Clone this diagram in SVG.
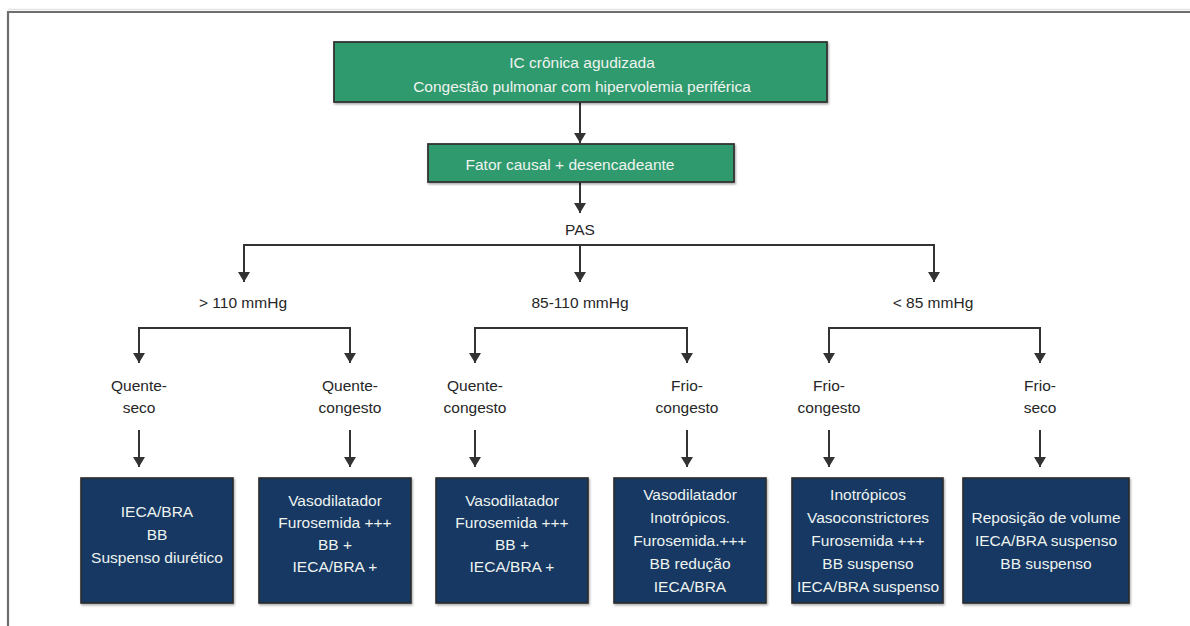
<svg xmlns="http://www.w3.org/2000/svg" width="1190" height="626" viewBox="0 0 1190 626">
<style>
.frame{stroke:#6e6e6e;stroke-width:2.2;fill:none}
.green{fill:#2f9a6d;stroke:#333;stroke-width:1.8}
.navy{fill:#163762;stroke:#2b2b2b;stroke-width:1.6}
.lt{font-family:"Liberation Sans",Arial,sans-serif;font-size:15.5px;fill:#eef3f0;text-anchor:middle}
.dk{font-family:"Liberation Sans",Arial,sans-serif;font-size:15.5px;fill:#262626;text-anchor:middle}
.con{stroke:#333;stroke-width:2;fill:none}
</style>
<defs>
<marker id="ah" markerUnits="userSpaceOnUse" markerWidth="12" markerHeight="12" refX="10" refY="6" orient="auto" viewBox="0 0 12 12">
<path d="M0,0 L10,6 L0,12 z" fill="#333"/>
</marker>
<filter id="sh" x="-5%" y="-5%" width="115%" height="115%">
<feDropShadow dx="1" dy="1.5" stdDeviation="1" flood-color="#000" flood-opacity="0.35"/>
</filter>
</defs>
<rect width="1190" height="626" fill="#fff"/>
<line x1="8" y1="9.5" x2="1190" y2="9.5" stroke="#e2e2e2" stroke-width="1.5"/>
<path class="frame" d="M8,626 V12 H1190"/>

<g id="connectors">
<path class="con" d="M580,102 V143" marker-end="url(#ah)"/>
<path class="con" d="M580,182 V213" marker-end="url(#ah)"/>
<path class="con" d="M244,282 V245 H934 V282" marker-end="url(#ah)"/>
<path class="con" d="M244,245 V282" marker-end="url(#ah)"/>
<path class="con" d="M580,245 V282" marker-end="url(#ah)"/>
<path class="con" d="M139,363 V328 H350 V363" marker-end="url(#ah)"/>
<path class="con" d="M139,328 V363" marker-end="url(#ah)"/>
<path class="con" d="M475,363 V328 H687 V363" marker-end="url(#ah)"/>
<path class="con" d="M475,328 V363" marker-end="url(#ah)"/>
<path class="con" d="M829,363 V328 H1040 V363" marker-end="url(#ah)"/>
<path class="con" d="M829,328 V363" marker-end="url(#ah)"/>
<path class="con" d="M139,430 V467" marker-end="url(#ah)"/>
<path class="con" d="M350,430 V467" marker-end="url(#ah)"/>
<path class="con" d="M475,430 V467" marker-end="url(#ah)"/>
<path class="con" d="M687,430 V467" marker-end="url(#ah)"/>
<path class="con" d="M829,430 V467" marker-end="url(#ah)"/>
<path class="con" d="M1040,430 V467" marker-end="url(#ah)"/>
</g>

<g id="n-top">
<rect class="green" x="334" y="42" width="493" height="60" filter="url(#sh)"/>
<text class="lt" x="582" y="68">IC crônica agudizada</text>
<text class="lt" x="582" y="92">Congestão pulmonar com hipervolemia periférica</text>
</g>
<g id="n-fator">
<rect class="green" x="428" y="144" width="306" height="38" filter="url(#sh)"/>
<text class="lt" x="570" y="170">Fator causal + desencadeante</text>
</g>
<g id="n-pas"><text class="dk" x="580" y="235">PAS</text></g>

<g id="n-gt110"><text class="dk" x="243" y="308">&gt; 110 mmHg</text></g>
<g id="n-85110"><text class="dk" x="580" y="308">85-110 mmHg</text></g>
<g id="n-lt85"><text class="dk" x="933" y="308">&lt; 85 mmHg</text></g>

<g id="n-qs1"><text class="dk" x="139" y="391">Quente-</text><text class="dk" x="139" y="413">seco</text></g>
<g id="n-qc1"><text class="dk" x="350" y="391">Quente-</text><text class="dk" x="350" y="413">congesto</text></g>
<g id="n-qc2"><text class="dk" x="475" y="391">Quente-</text><text class="dk" x="475" y="413">congesto</text></g>
<g id="n-fc1"><text class="dk" x="687" y="391">Frio-</text><text class="dk" x="687" y="413">congesto</text></g>
<g id="n-fc2"><text class="dk" x="829" y="391">Frio-</text><text class="dk" x="829" y="413">congesto</text></g>
<g id="n-fs"><text class="dk" x="1040" y="391">Frio-</text><text class="dk" x="1040" y="413">seco</text></g>

<g id="b1">
<rect class="navy" x="81" y="478" width="152" height="125" filter="url(#sh)"/>
<text class="lt" x="157" y="517">IECA/BRA</text>
<text class="lt" x="157" y="540">BB</text>
<text class="lt" x="157" y="563">Suspenso diurético</text>
</g>
<g id="b2">
<rect class="navy" x="259" y="478" width="152" height="125" filter="url(#sh)"/>
<text class="lt" x="335" y="506">Vasodilatador</text>
<text class="lt" x="335" y="528">Furosemida +++</text>
<text class="lt" x="335" y="550">BB +</text>
<text class="lt" x="335" y="572">IECA/BRA +</text>
</g>
<g id="b3">
<rect class="navy" x="436" y="478" width="152" height="125" filter="url(#sh)"/>
<text class="lt" x="512" y="506">Vasodilatador</text>
<text class="lt" x="512" y="528">Furosemida +++</text>
<text class="lt" x="512" y="550">BB +</text>
<text class="lt" x="512" y="572">IECA/BRA +</text>
</g>
<g id="b4">
<rect class="navy" x="614" y="478" width="152" height="125" filter="url(#sh)"/>
<text class="lt" x="690" y="500">Vasodilatador</text>
<text class="lt" x="690" y="523">Inotrópicos.</text>
<text class="lt" x="690" y="546">Furosemida.+++</text>
<text class="lt" x="690" y="569">BB redução</text>
<text class="lt" x="690" y="592">IECA/BRA</text>
</g>
<g id="b5">
<rect class="navy" x="792" y="478" width="151" height="125" filter="url(#sh)"/>
<text class="lt" x="868" y="500">Inotrópicos</text>
<text class="lt" x="868" y="523">Vasoconstrictores</text>
<text class="lt" x="868" y="546">Furosemida +++</text>
<text class="lt" x="868" y="569">BB suspenso</text>
<text class="lt" x="868" y="592">IECA/BRA suspenso</text>
</g>
<g id="b6">
<rect class="navy" x="963" y="478" width="166" height="125" filter="url(#sh)"/>
<text class="lt" x="1046" y="523">Reposição de volume</text>
<text class="lt" x="1046" y="546">IECA/BRA suspenso</text>
<text class="lt" x="1046" y="569">BB suspenso</text>
</g>
</svg>
